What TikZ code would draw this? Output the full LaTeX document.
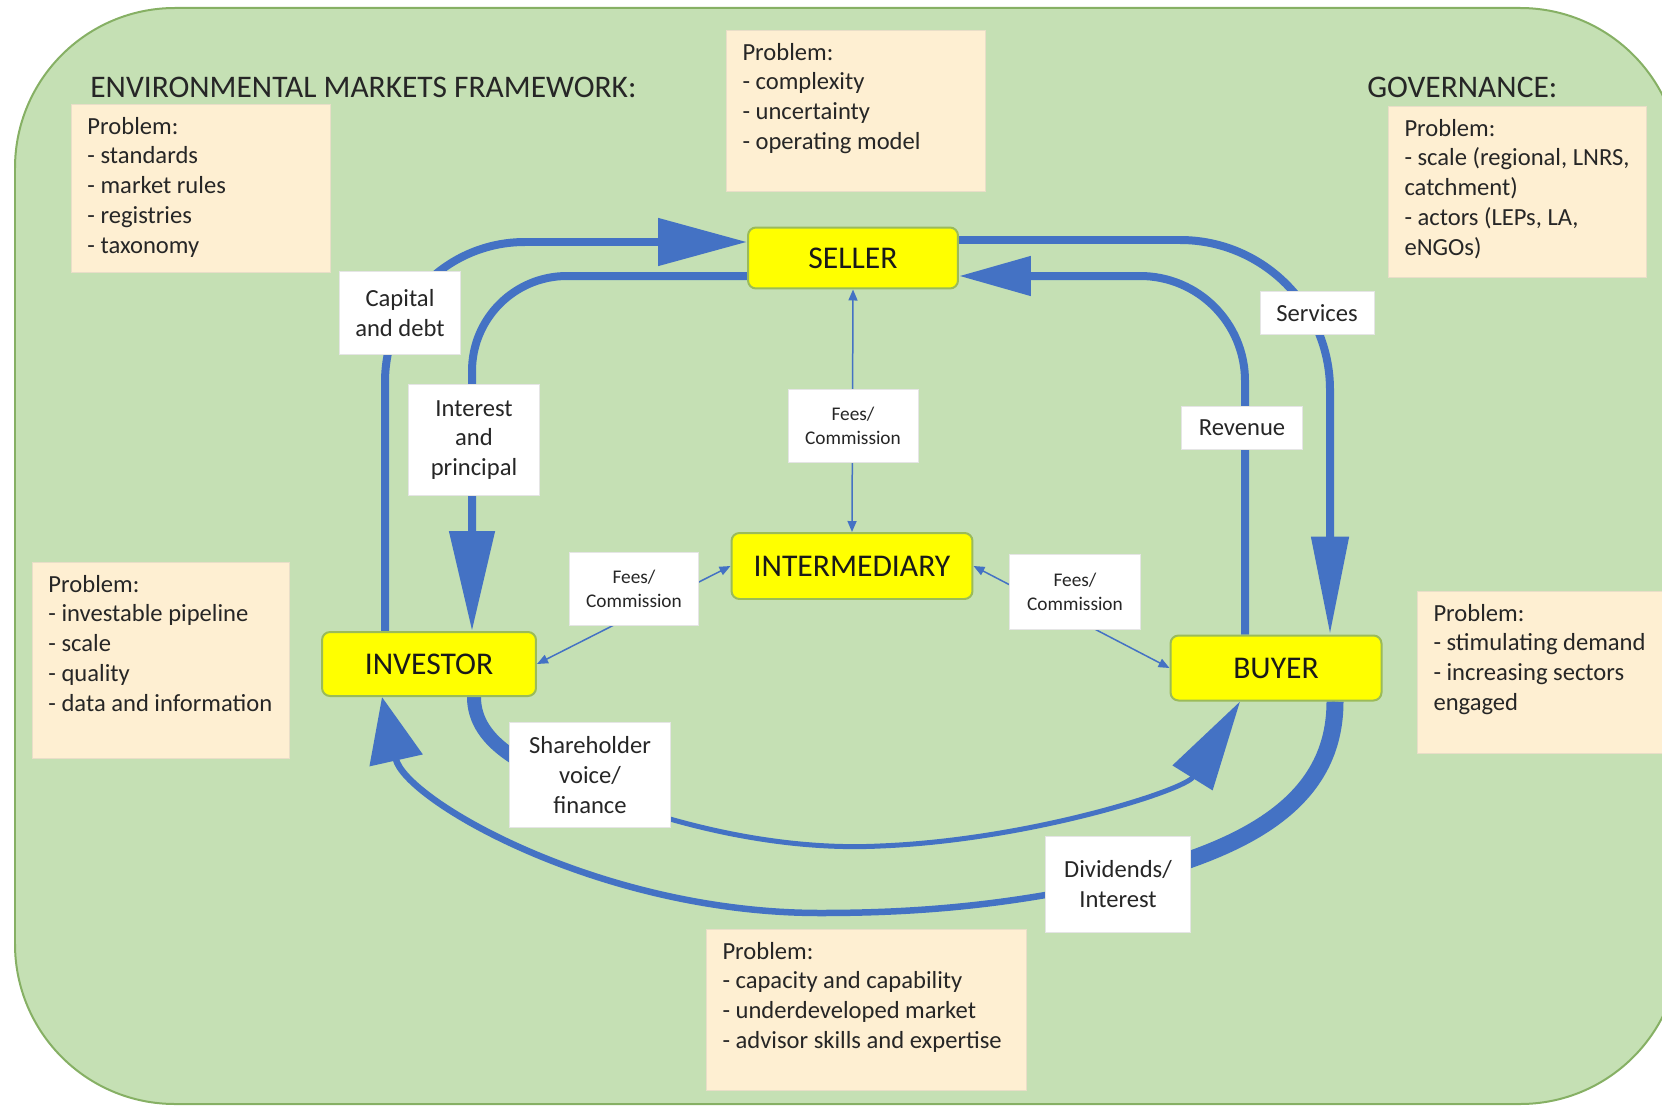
\documentclass[tikz,border=0pt]{standalone}
\usepackage{fontspec}
\setmainfont{Carlito}
\usetikzlibrary{arrows.meta,calc,positioning}

\definecolor{bggreen}{HTML}{C5E0B4}
\definecolor{bgedge}{HTML}{86B064}
\definecolor{peach}{RGB}{254,239,210}
\definecolor{peachedge}{RGB}{233,222,200}
\definecolor{actoryellow}{HTML}{FFFF00}
\definecolor{actoredge}{HTML}{9BBB59}
\definecolor{flowblue}{HTML}{4472C4}

\pgfdeclarelayer{background}
\pgfdeclarelayer{flow}
\pgfsetlayers{background,flow,main}

\begin{document}
\begin{tikzpicture}[%
    x=0.02cm,
    y=-0.02cm,
    panel/.style={
      fill=bggreen,
      draw=bgedge,
      line width=0.04cm,
      rounded corners=3.2cm
    },
    heading/.style={
      anchor=west,
      inner sep=0pt,
      text=black!85,
      font=\fontsize{17.9pt}{21pt}\selectfont
    },
    actor/.style={
      rectangle,
      fill=actoryellow,
      draw=actoredge,
      line width=0.04cm,
      rounded corners=0.16cm,
      text=black!90,
      font=\fontsize{18pt}{21pt}\selectfont
    },
    problem/.style={
      rectangle,
      anchor=north west,
      fill=peach,
      draw=peachedge,
      line width=0.02cm,
      inner xsep=0.32cm,
      inner ysep=0.25cm,
      text=black!85,
      font=\fontsize{14pt}{17pt}\selectfont
    },
    flowlabel/.style={
      rectangle,
      fill=white,
      draw=black!10,
      line width=0.02cm,
      inner sep=0pt,
      align=center,
      text=black!85,
      font=\fontsize{14pt}{17pt}\selectfont
    },
    feelabel/.style={
      flowlabel,
      font=\fontsize{11pt}{13.8pt}\selectfont
    },
    bigflow/.style={
      draw=flowblue,
      line width=0.16cm
    },
    thinflow/.style={
      draw=flowblue,
      line width=0.03cm,
      >={Triangle[length=0.22cm,width=0.18cm]},
      <->
    }
  ]
  \useasboundingbox (0,0) rectangle (1662,1108);

  % green panel
  \begin{pgfonlayer}{background}
    \clip (0,0) rectangle (1662,1108);
    \draw[panel] (15,8) rectangle (1680,1104);
  \end{pgfonlayer}

  % headings
  \node[heading] (emf) at (90,87) {ENVIRONMENTAL MARKETS FRAMEWORK:};
  \node[heading] (gov) at (1367,87) {GOVERNANCE:};

  % problem boxes
  \node[problem] (pmarket) at (71,104) {\parbox[t][2.86cm][t]{4.54cm}{\raggedright
    Problem:\\- standards\\- market rules\\- registries\\- taxonomy}};
  \node[problem] (pmodel) at (726,30) {\parbox[t][2.72cm][t]{4.54cm}{\raggedright
    Problem:\\- complexity\\- uncertainty\\- operating model}};
  \node[problem] (pgov) at (1388,106) {\parbox[t][2.92cm][t]{4.52cm}{\raggedright
    Problem:\\- scale (regional, LNRS,\\catchment)\\- actors (LEPs, LA,\\eNGOs)}};
  \node[problem] (pinvest) at (32,562) {\parbox[t][3.42cm][t]{4.5cm}{\raggedright
    Problem:\\- investable pipeline\\- scale\\- quality\\- data and information}};
  \node[problem] (pdemand) at (1417,591) {\parbox[t][2.74cm][t]{4.86cm}{\raggedright
    Problem:\\- stimulating demand\\- increasing sectors\\engaged}};
  \node[problem] (pskills) at (706,929) {\parbox[t][2.72cm][t]{5.76cm}{\raggedright
    Problem:\\- capacity and capability\\- underdeveloped market\\- advisor skills and expertise}};

  % actors
  \node[actor, minimum width=4.2cm, minimum height=1.22cm] (seller) at (853,258) {SELLER};
  \node[actor, minimum width=4.82cm, minimum height=1.32cm] (inter) at (852,566) {INTERMEDIARY};
  \node[actor, minimum width=4.28cm, minimum height=1.28cm] (investor) at (429,664) {INVESTOR};
  \node[actor, minimum width=4.22cm, minimum height=1.3cm] (buyer) at (1276,668) {BUYER};

  % flow labels
  \node[flowlabel, minimum width=2.42cm, minimum height=1.68cm] (capital) at (400,313) {Capital\\and debt};
  \node[flowlabel, minimum width=2.64cm, minimum height=2.24cm] (interest) at (474,440) {Interest\\and\\principal};
  \node[flowlabel, minimum width=2.28cm, minimum height=0.86cm] (services) at (1317,313) {Services};
  \node[flowlabel, minimum width=2.42cm, minimum height=0.86cm] (revenue) at (1242,428) {Revenue};
  \node[feelabel, minimum width=2.6cm, minimum height=1.48cm] (feesS) at (853,426) {Fees/\\Commission};
  \node[feelabel, minimum width=2.6cm, minimum height=1.48cm] (feesI) at (634,589) {Fees/\\Commission};
  \node[feelabel, minimum width=2.62cm, minimum height=1.5cm] (feesB) at (1075,592) {Fees/\\Commission};
  \node[flowlabel, minimum width=3.24cm, minimum height=2.12cm] (share) at (590,775) {Shareholder\\voice/\\finance};
  \node[flowlabel, minimum width=2.9cm, minimum height=1.92cm] (divid) at (1118,884) {Dividends/\\Interest};

  \begin{pgfonlayer}{flow}
    % upper loop
    \draw[bigflow, rounded corners=2.8cm, -{Triangle[length=1.78cm,width=0.92cm]}]
      ($(investor.north)+(-44,0)$) |- ($(seller.west)+(0,-16)$);
    \draw[bigflow, rounded corners=1.9cm, -{Triangle[length=2cm,width=0.88cm]}]
      ($(seller.west)+(0,18)$) -| ($(investor.north)+(43,0)$);
    \draw[bigflow, rounded corners=3cm, -{Triangle[length=1.96cm,width=0.72cm]}]
      ($(seller.east)+(0,-18)$) -| ($(buyer.north)+(54,0)$);
    \draw[bigflow, rounded corners=2.1cm, -{Triangle[length=1.44cm,width=0.76cm]}]
      ($(buyer.north)+(-31,0)$) |- ($(seller.east)+(0,18)$);

    % lower loop
    \draw[bigflow, line width=0.13cm, -{Triangle[length=1.3cm,width=1.06cm]}]
      ($(buyer.south)+(59,0)$) .. controls (1335,800) and (1250,845) .. (1140,875)
      .. controls (1020,905) and (920,913) .. (820,913)
      .. controls (600,913) and (405,800) .. ($(investor.south)+(-47,0)$);
    \draw[bigflow, line width=0.34cm]
      ($(buyer.south)+(59,0)$) .. controls (1335,800) and (1250,845) .. (1140,875);
    \draw[bigflow, line width=0.1cm, -{Triangle[length=1.8cm,width=0.92cm]}]
      ($(investor.south)+(45,0)$) .. controls (474,745) and (530,770) .. (590,792)
      .. controls (700,835) and (800,850) .. (880,846)
      .. controls (1030,840) and (1185,790) .. ($(buyer.south)+(-36,0)$);
    \draw[bigflow, line width=0.28cm]
      ($(investor.south)+(45,0)$) .. controls (474,745) and (530,770) .. (590,792);

    % fees
    \draw[thinflow] (seller.south) -- (inter.north);
    \draw[thinflow] (inter.west) -- (investor.east);
    \draw[thinflow] (inter.east) -- (buyer.west);
  \end{pgfonlayer}
\end{tikzpicture}
\end{document}
